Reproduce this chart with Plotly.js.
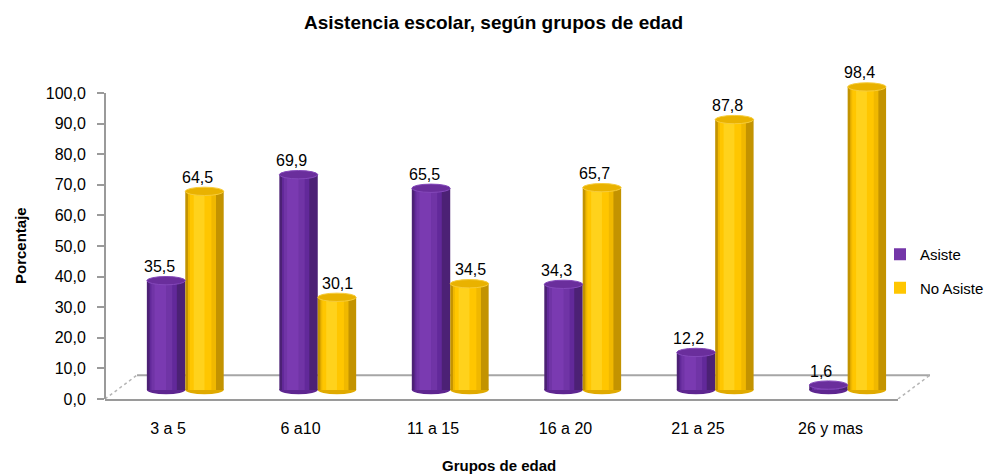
<!DOCTYPE html>
<html>
<head>
<meta charset="utf-8">
<script src="https://cdn.plot.ly/plotly-3.0.1.min.js"></script>
<style>html,body{margin:0;padding:0;background:#fff;}#chart{width:991px;height:474px;}</style>
</head>
<body>
<div id="chart"></div>
<script>
// ---- data ----
var categories = ["3 a 5", "6 a10", "11 a 15", "16 a 20", "21 a 25", "26 y mas"];
var asiste = [35.5, 69.9, 65.5, 34.3, 12.2, 1.6];
var noAsiste = [64.5, 30.1, 34.5, 65.7, 87.8, 98.4];
var seriesNames = ["Asiste", "No Asiste"];
var yTickVals = [0, 10, 20, 30, 40, 50, 60, 70, 80, 90, 100];

// ---- styling ----
var FONT = "Liberation Sans, Arial, sans-serif";
var BAR_W = 0.29;
var ELL_H = 1.35; // half-height of cylinder ellipse in y2 units
var seriesStyle = [
  {start: -0.16, main: "#7436a8", top: "#6a2e9c", rim: "#8448ba", bottom: "#5e2690",
   layers: [[0, 1, "#4c2175"], [0.07, 0.78, "#62299a"], [0.12, 0.66, "#7034a6"], [0.2, 0.5, "#7a3ab1"]]},
  {start: 0.13, main: "#ffc600", top: "#e9b200", rim: "#f7cc3a", bottom: "#e0aa00",
   layers: [[0, 1, "#c39300"], [0.07, 0.8, "#f0b800"], [0.12, 0.68, "#ffc600"], [0.22, 0.5, "#ffd21c"]]}
];
var seriesData = [asiste, noAsiste];

var traces = [];
var shapes = [];
var annotations = [];
seriesData.forEach(function (vals, s) {
  var st = seriesStyle[s];
  st.layers.forEach(function (ly, li) {
    traces.push({
      type: "bar", x: categories, y: vals, yaxis: "y2", name: seriesNames[s],
      offset: st.start + ly[0] * BAR_W, width: (ly[1] - ly[0]) * BAR_W,
      marker: {color: ly[2], line: {width: 0}}, cliponaxis: false,
      showlegend: false, hoverinfo: li === 0 ? "x+y+name" : "skip"
    });
  });
  traces.push({
    type: "bar", x: [categories[0]], y: [null], yaxis: "y2", name: seriesNames[s],
    legendgroup: seriesNames[s], marker: {color: st.main}, showlegend: true, hoverinfo: "skip"
  });
  vals.forEach(function (v, i) {
    var x0 = i + st.start, x1 = i + st.start + BAR_W;
    shapes.push({type: "circle", xref: "x", yref: "y2", x0: x0, x1: x1,
      y0: -ELL_H, y1: ELL_H, fillcolor: st.bottom, line: {width: 0}, layer: "below"});
    shapes.push({type: "circle", xref: "x", yref: "y2", x0: x0, x1: x1,
      y0: v - ELL_H, y1: v + ELL_H, fillcolor: st.top, line: {color: st.rim, width: 1}, layer: "above"});
    // label: shifted left as in the 3D view, unless a taller left neighbour would cover it
    var shift = (s === 1 && seriesData[0][i] > v) ? 1 : -7;
    annotations.push({xref: "x", yref: "y2", x: (x0 + x1) / 2, y: v,
      text: v.toFixed(1).replace(".", ","), showarrow: false,
      xanchor: "center", yanchor: "middle", xshift: shift, yshift: 14,
      font: {family: FONT, size: 16, color: "#000"}});
  });
});

var PLOT_TOP = 60, PLOT_BOT = 399, PLOT_L = 105, PLOT_R = 898;
var PH = PLOT_BOT - PLOT_TOP, PW = PLOT_R - PLOT_L;
function py(p) { return (PLOT_BOT - p) / PH; }
function px(p) { return (p - PLOT_L) / PW; }

shapes.push(
  {type: "line", xref: "paper", yref: "y", x0: px(137), x1: px(930), y0: 7.8, y1: 7.8,
   line: {color: "#a6a6a6", width: 2}, layer: "below"},
  {type: "line", xref: "paper", yref: "y", x0: 0, x1: px(137), y0: 0, y1: 7.8,
   line: {color: "#b5b5b5", width: 1.5, dash: "dot"}, layer: "below"},
  {type: "line", xref: "paper", yref: "y", x0: 1.0, x1: px(930), y0: 0, y1: 7.8,
   line: {color: "#b5b5b5", width: 1.5, dash: "dot"}, layer: "below"},
  {type: "line", xref: "paper", yref: "y", x0: 0, x1: 0, y0: 0, y1: 100,
   line: {color: "#9a9a9a", width: 2}, layer: "above"}
);

annotations.push(
  {text: "<b>Porcentaje</b>", xref: "paper", yref: "paper", x: px(20), y: py(246),
   xanchor: "center", yanchor: "middle", textangle: -90, showarrow: false,
   font: {family: FONT, size: 15, color: "#000"}},
  {text: "<b>Grupos de edad</b>", xref: "paper", yref: "paper", x: px(499), y: py(465),
   xanchor: "center", yanchor: "middle", showarrow: false,
   font: {family: FONT, size: 15, color: "#000"}}
);

var layout = {
  width: 991, height: 474,
  paper_bgcolor: "#fff", plot_bgcolor: "rgba(0,0,0,0)",
  separators: ",.",
  barmode: "overlay",
  margin: {l: PLOT_L, r: 991 - PLOT_R, t: PLOT_TOP, b: 474 - PLOT_BOT, autoexpand: false},
  font: {family: FONT, size: 16, color: "#000"},
  title: {text: "<b>Asistencia escolar, según grupos de edad</b>",
          font: {family: FONT, size: 19, color: "#000"},
          x: 493.5 / 991, xanchor: "center", xref: "container", y: 1 - 22 / 474, yanchor: "middle"},
  xaxis: {type: "category", range: [-0.476, 5.51], showgrid: false, zeroline: false,
          showline: true, linecolor: "#9a9a9a", linewidth: 2, ticks: "", ticklabelstandoff: 14,
          tickfont: {family: FONT, size: 16, color: "#000"}, fixedrange: true},
  yaxis: {range: [0, PH / 3.06], tickmode: "array", tickvals: yTickVals, tickformat: ".1f",
          showgrid: false, zeroline: false, showline: false,
          ticks: "outside", ticklen: 7, tickcolor: "#9a9a9a", tickwidth: 2, ticklabelstandoff: 8,
          tickfont: {family: FONT, size: 16, color: "#000"}, fixedrange: true},
  yaxis2: {overlaying: "y", range: [-9 / 3.08, (390 - PLOT_TOP) / 3.08], visible: false, fixedrange: true},
  legend: {x: px(880), xanchor: "left", y: py(238), yanchor: "top", traceorder: "grouped",
           tracegroupgap: 11, font: {family: FONT, size: 15, color: "#000"}, bgcolor: "rgba(0,0,0,0)"},
  shapes: shapes,
  annotations: annotations
};

Plotly.newPlot("chart", traces, layout, {displayModeBar: false, staticPlot: true});
</script>
</body>
</html>
